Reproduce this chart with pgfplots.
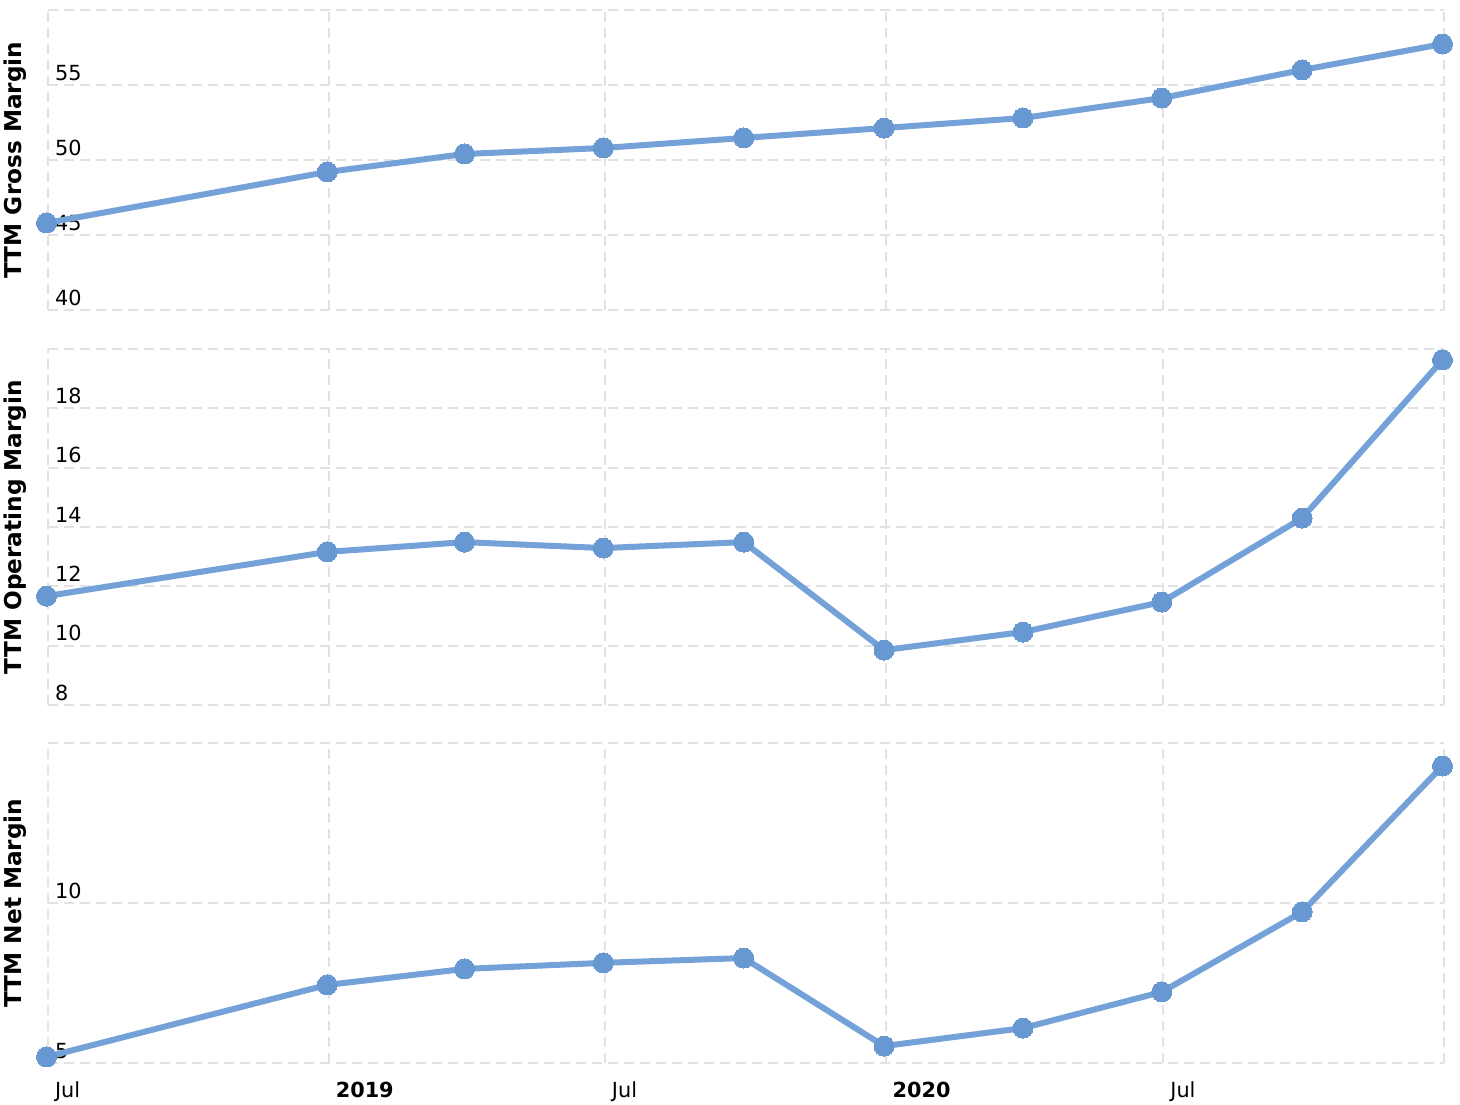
\documentclass[border=0pt]{standalone}
\usepackage{fontspec}
\setmainfont{DejaVu Sans}
\usepackage{pgfplots}
\pgfplotsset{compat=1.18}
\definecolor{lineblue}{RGB}{116,162,216}
\definecolor{markblue}{RGB}{104,152,210}
\definecolor{gridgray}{RGB}{226,226,226}
\pgfplotsset{
  series/.style={color=lineblue, line width=3pt, mark=*, mark size=5pt, mark options={fill=markblue, draw=markblue, line width=0pt}},
  panel/.style={
    scale only axis, width=698pt, xmin=0, xmax=915, clip=false,
    axis line style={draw=none}, major tick style={draw=none},
    xmajorgrids, ymajorgrids,
    major grid style={gridgray, line width=0.9pt, dash pattern=on 5pt off 3pt},
    xtick={0,184,365,549,731,915},
    xticklabels={},
    /pgf/number format/assume math mode=true,
    tick label style={font=\fontsize{10.4}{12}\selectfont, text=black},
    yticklabel style={anchor=south west, yshift=-1.2pt},
    xticklabel style={anchor=north west, yshift=-6pt},
    ylabel style={at={(rel axis cs:0,0.5)}, anchor=center, yshift=16.5pt, font=\fontsize{11.6}{13}\selectfont\bfseries},
  }
}
\begin{document}
\begin{tikzpicture}
\begin{axis}[panel, at={(24pt,397pt)}, anchor=south west, height=150pt,
  ymin=40, ymax=60, ytick={40,45,50,55,60}, yticklabels={40,45,50,55,{}},
  ylabel={TTM Gross Margin}]
\addplot[series] coordinates {(-1,45.8) (183,49.2) (273,50.4) (364,50.8) (456,51.47) (548,52.13) (639,52.8) (730,54.13) (822,56.0) (914,57.73)};
\end{axis}
\begin{axis}[panel, at={(24pt,199.5pt)}, anchor=south west, height=178pt,
  ymin=8, ymax=20, ytick={8,10,12,14,16,18,20}, yticklabels={8,10,12,14,16,18,{}},
  ylabel={TTM Operating Margin}]
\addplot[series] coordinates {(-1,11.67) (183,13.16) (273,13.49) (364,13.29) (456,13.49) (548,9.85) (639,10.46) (730,11.47) (822,14.30) (914,19.63)};
\end{axis}
\begin{axis}[panel, at={(24pt,20.5pt)}, anchor=south west, height=160pt,
  ymin=5, ymax=15, ytick={5,10,15}, yticklabels={5,10,{}},
  xticklabels={Jul,\textbf{2019},Jul,\textbf{2020},Jul,{}},
  ylabel={TTM Net Margin}]
\addplot[series] coordinates {(-1,5.19) (183,7.44) (273,7.94) (364,8.13) (456,8.28) (548,5.53) (639,6.09) (730,7.22) (822,9.72) (914,14.28)};
\end{axis}
\pgfresetboundingbox
\useasboundingbox (0,0) rectangle (730pt,552pt);
\end{tikzpicture}
\end{document}
